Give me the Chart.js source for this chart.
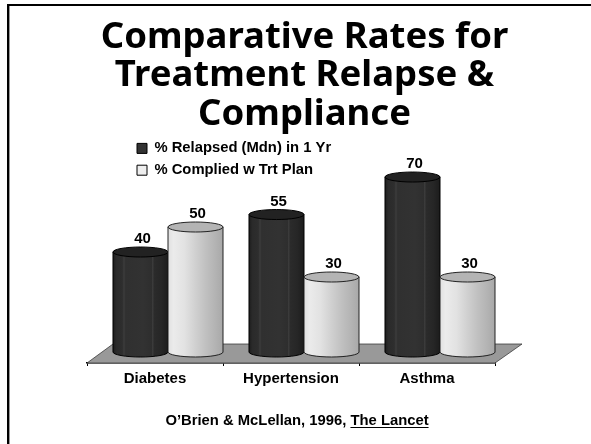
<!DOCTYPE html>
<html><head><meta charset="utf-8">
<style>html,body{margin:0;padding:0;background:#fff}#w{width:591px;height:444px;position:relative}</style>
<script src="https://cdn.jsdelivr.net/npm/chart.js@4"></script></head>
<body><div id="w"><canvas id="c" width="591" height="444"></canvas></div>
<script>
const categories = ['Diabetes','Hypertension','Asthma'];
const relapsed = [40,55,70];
const complied = [50,30,30];
const seriesNames = ['% Relapsed (Mdn) in 1 Yr','% Complied w Trt Plan'];
const titleLines = ['Comparative Rates for','Treatment Relapse &','Compliance'];
const sourceText = 'O\u2019Brien & McLellan, 1996, ';
const sourceLink = 'The Lancet';
const DEPTH_X = 26, DEPTH_Y = 19, SHIFT = 13, ELL = 5;
const darkStops = [[0,'#1c1c1c'],[.06,'#2a2a2a'],[.17,'#2e2e2e'],[.2,'#3c3c3c'],[.23,'#303030'],[.55,'#323232'],[.7,'#2e2e2e'],[.72,'#3c3c3c'],[.75,'#2b2b2b'],[.88,'#262626'],[1,'#1c1c1c']];
const lightStops = [[0,'#e0e0e0'],[.1,'#ebebeb'],[.3,'#e2e2e2'],[.5,'#d0d0d0'],[.7,'#bfbfbf'],[.85,'#b4b4b4'],[1,'#a8a8a8']];
const cyl = {
  id:'cyl',
  afterLayout(chart){
    const l = chart.legend; l.left = 130; l.top = 134; l.right = l.left + l.width; l.bottom = l.top + l.height;
    if (l.adjustHitBoxes) l.adjustHitBoxes();
    const t = chart.titleBlock; t.left += 13.5; t.right += 13.5;
  },
  beforeDatasetDraw(){ return false; },
  beforeDatasetsDraw(chart){
    const {ctx, chartArea:a} = chart;
    ctx.save();
    ctx.beginPath();
    ctx.moveTo(a.left,a.bottom); ctx.lineTo(a.right,a.bottom);
    ctx.lineTo(a.right+DEPTH_X+1,a.bottom-DEPTH_Y); ctx.lineTo(a.left+DEPTH_X,a.bottom-DEPTH_Y); ctx.closePath();
    ctx.fillStyle='#999'; ctx.fill();
    ctx.strokeStyle='#333'; ctx.lineWidth=0.75; ctx.stroke();
    ctx.restore();
  },
  afterDatasetsDraw(chart){
    const ctx = chart.ctx;
    const metas = [chart.getDatasetMeta(0), chart.getDatasetMeta(1)];
    categories.forEach((c,i)=>{
      metas.forEach((m,di)=>{
        const b = m.data[i], w = b.width, l = b.x - w/2 + SHIFT, r = l + w, cx = (l+r)/2;
        const stops = di===0 ? darkStops : lightStops;
        const g = ctx.createLinearGradient(l,0,r,0);
        stops.forEach(s=>g.addColorStop(s[0],s[1]));
        ctx.save();
        ctx.lineWidth = 1; ctx.strokeStyle = di===0 ? '#000' : '#222';
        ctx.beginPath();
        ctx.moveTo(l,b.y);
        ctx.lineTo(l,b.base);
        ctx.ellipse(cx,b.base,w/2,ELL,0,Math.PI,0,true);
        ctx.lineTo(r,b.y);
        ctx.closePath();
        ctx.fillStyle = g; ctx.fill(); ctx.stroke();
        ctx.beginPath();
        ctx.ellipse(cx,b.y,w/2,ELL,0,0,Math.PI*2);
        ctx.fillStyle = di===0 ? '#222' : '#b4b4b4'; ctx.fill(); ctx.stroke();
        ctx.fillStyle='#000'; ctx.font='bold 15px "Liberation Sans"'; ctx.textAlign='center'; ctx.textBaseline='alphabetic';
        const v = chart.data.datasets[di].data[i];
        ctx.fillText(String(v),cx+2,b.y-9);
        ctx.restore();
      });
    });
  },
  afterDraw(chart){
    const ctx = chart.ctx;
    ctx.save();
    ctx.fillStyle='#000';
    ctx.fillRect(7,4,584,2);
    ctx.fillRect(7,4,2,440);
    ctx.fillStyle='#999';
    ctx.fillRect(9,6,1,438);
    ctx.fillStyle='#000'; ctx.font='bold 14.8px "Liberation Sans"'; ctx.textBaseline='alphabetic'; ctx.textAlign='left';
    const w1 = ctx.measureText(sourceText).width, w2 = ctx.measureText(sourceLink).width, x0 = 297-(w1+w2)/2;
    ctx.fillText(sourceText,x0,425);
    ctx.fillText(sourceLink,x0+w1,425);
    ctx.fillRect(x0+w1,427,w2,1);
    ctx.restore();
  }
};
new Chart(document.getElementById('c'),{
  type:'bar',
  data:{labels:categories,datasets:[
    {label:seriesNames[0],data:relapsed,backgroundColor:'#333',borderColor:'#000',borderWidth:1,categoryPercentage:.809,barPercentage:1},
    {label:seriesNames[1],data:complied,backgroundColor:'#eee',borderColor:'#000',borderWidth:1,categoryPercentage:.809,barPercentage:1}
  ]},
  options:{
    responsive:false,animation:false,
    layout:{padding:{left:87,right:96,top:18,bottom:52}},
    plugins:{
      tooltip:{enabled:false},
      title:{display:true,text:titleLines,color:'#000',font:{family:'"Noto Sans"',size:36.5,weight:'bold',lineHeight:1.055},padding:{top:0,bottom:18.5}},
      legend:{position:'chartArea',align:'start',labels:{color:'#000',boxWidth:10,boxHeight:10,padding:7,font:{family:'"Liberation Sans"',size:14.8,weight:'bold'}}}
    },
    scales:{
      x:{offset:true,grid:{drawOnChartArea:false,offset:true,tickLength:3,color:'#000'},border:{color:'#000',width:1.5},
         ticks:{color:'#000',padding:4,font:{family:'"Liberation Sans"',size:15,weight:'bold'}}},
      y:{display:false,min:-4.4,max:80}
    }
  },
  plugins:[cyl]
});
</script></body></html>
